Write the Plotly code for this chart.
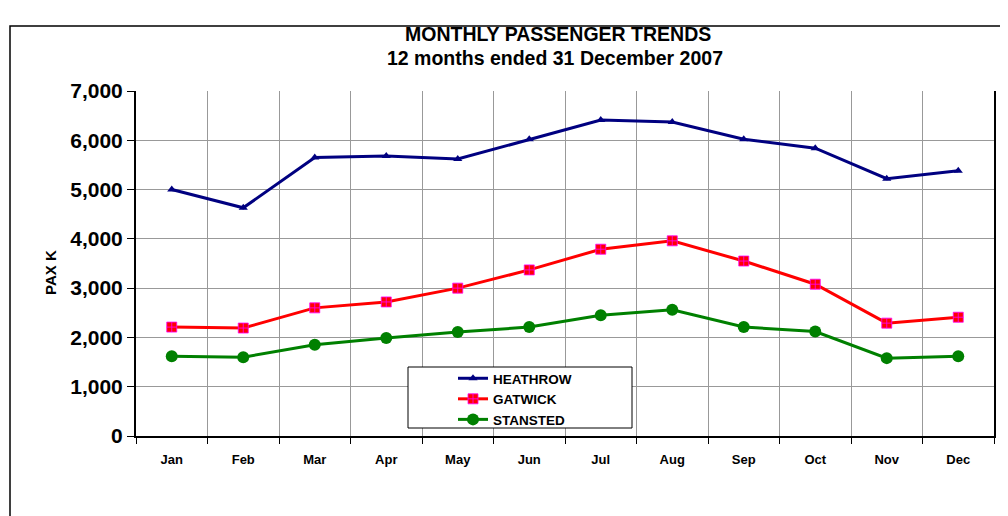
import plotly.graph_objects as go

months = ["Jan", "Feb", "Mar", "Apr", "May", "Jun", "Jul", "Aug", "Sep", "Oct", "Nov", "Dec"]
heathrow = [5000, 4630, 5650, 5680, 5620, 6020, 6410, 6370, 6020, 5840, 5220, 5380]
gatwick = [2210, 2190, 2600, 2720, 3000, 3370, 3790, 3960, 3550, 3080, 2290, 2410]
stansted = [1620, 1600, 1850, 1990, 2110, 2210, 2450, 2560, 2210, 2120, 1580, 1620]

FONT = "Liberation Sans, Arial, sans-serif"

# page body has an 8px margin, so the figure is 8px smaller and the plot
# area (x 136..994, y 91..436 on the page) is placed with that in mind
PX0, PX1, PY0, PY1 = 136, 994, 91, 436


def px(x):
    return (x - PX0) / (PX1 - PX0)


def py(y):
    return (PY1 - y) / (PY1 - PY0)


fig = go.Figure()

fig.add_trace(go.Scatter(
    name="HEATHROW", x=months, y=heathrow, mode="lines+markers",
    line=dict(color="#000080", width=3),
    marker=dict(symbol="triangle-up", size=8, color="#000080"),
))
fig.add_trace(go.Scatter(
    name="GATWICK", x=months, y=gatwick, mode="lines+markers",
    line=dict(color="#FF0000", width=3),
    marker=dict(symbol="square-cross", size=10, color="#FF0000",
                line=dict(color="#FF00FF", width=0.8)),
))
fig.add_trace(go.Scatter(
    name="STANSTED", x=months, y=stansted, mode="lines+markers",
    line=dict(color="#008000", width=3),
    marker=dict(symbol="circle", size=12, color="#008000"),
))

fig.update_layout(
    width=1000, height=508,
    margin=dict(l=128, r=14, t=83, b=80),
    paper_bgcolor="white", plot_bgcolor="white",
    font=dict(family=FONT, color="black"),
    showlegend=True,
    legend=dict(
        x=px(453), y=py(363), xanchor="left", yanchor="top",
        bgcolor="rgba(0,0,0,0)", borderwidth=0,
        font=dict(size=13.5, family=FONT, weight="bold"),
        tracegroupgap=0, itemwidth=30,
    ),
    annotations=[
        dict(text="<b>MONTHLY PASSENGER TRENDS</b>", xref="paper", yref="paper",
             x=px(558), y=py(34), xanchor="center", yanchor="middle",
             showarrow=False, font=dict(size=19.5, family=FONT)),
        dict(text="<b>12 months ended 31 December 2007</b>", xref="paper", yref="paper",
             x=px(555), y=py(58), xanchor="center", yanchor="middle",
             showarrow=False, font=dict(size=19.5, family=FONT)),
        dict(text="<b>PAX K</b>", xref="paper", yref="paper",
             x=px(50), y=py(273), xanchor="center", yanchor="middle",
             showarrow=False, textangle=-90, font=dict(size=15, family=FONT)),
    ],
    shapes=[
        dict(type="rect", xref="paper", yref="paper",
             x0=px(10), x1=1.2, y0=-0.5, y1=py(26),
             line=dict(color="black", width=1.5), layer="below"),
        dict(type="rect", xref="paper", yref="paper",
             x0=px(408), x1=px(632), y0=py(428), y1=py(367),
             fillcolor="white", line=dict(color="black", width=1), layer="above"),
    ],
    xaxis2=dict(
        overlaying="x", anchor="y", range=[-0.5, 11.5],
        tickvals=list(range(len(months))), showticklabels=False,
        ticks="outside", ticklen=3, tickcolor="black", showgrid=False,
        zeroline=False,
    ),
)

fig.layout.xaxis.update(
    type="category", range=[-0.5, 11.5], tickson="boundaries",
    showgrid=True, gridcolor="#999999", gridwidth=1,
    showline=True, linecolor="black", linewidth=2,
    ticks="outside", ticklen=6, tickcolor="black",
    ticklabelstandoff=10,
    tickfont=dict(size=13, family=FONT, weight="bold"),
)
fig.update_yaxes(
    range=[0, 7000], dtick=1000, tickformat=",",
    showgrid=True, gridcolor="#999999", gridwidth=1,
    showline=True, linecolor="black", linewidth=2, mirror=True,
    ticks="outside", ticklen=7, tickcolor="black",
    tickfont=dict(size=21, family=FONT, weight="bold"),
    zeroline=False,
)

fig.write_html("out.html")
